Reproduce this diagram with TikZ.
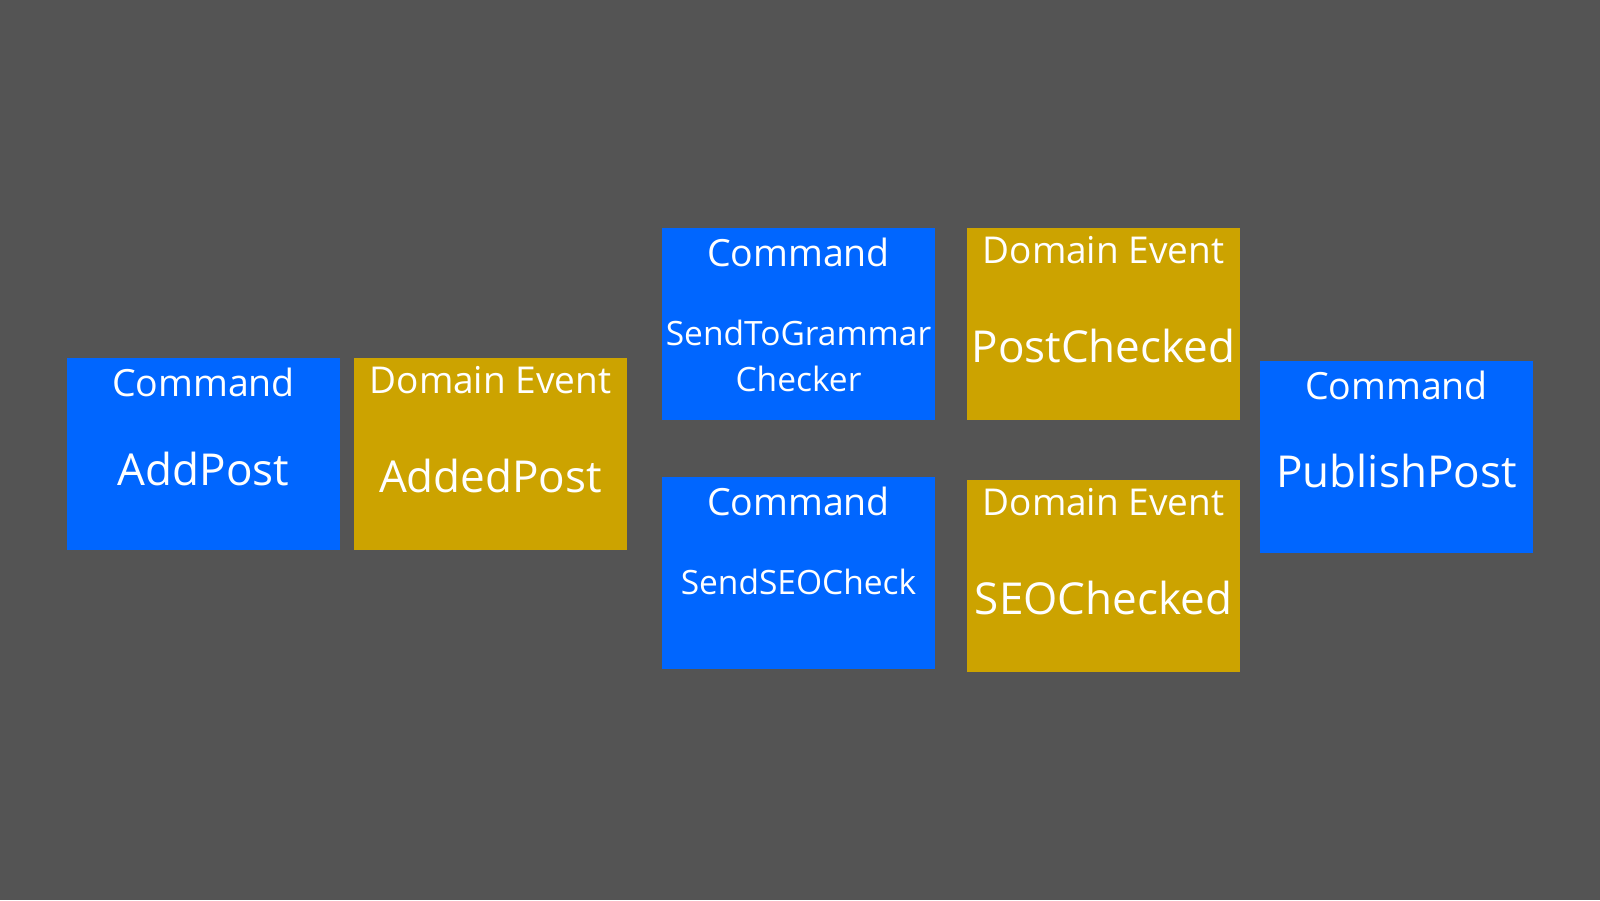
\documentclass[tikz,border=0pt]{standalone}
\usepackage{fontspec}
\setmainfont{Open Sans}
\usetikzlibrary{positioning}
\definecolor{bg}{HTML}{545454}
\definecolor{cmdblue}{HTML}{0066FF}
\definecolor{evgold}{HTML}{CCA300}
\tikzset{c/.style={fill=cmdblue,minimum width=273pt,minimum height=192pt,inner sep=0pt},
 e/.style={fill=evgold,minimum width=273pt,minimum height=192pt,inner sep=0pt},
 hc/.style={text=white,anchor=base,inner sep=0pt,font=\fontsize{37.5}{42}\selectfont},
 he/.style={text=white,anchor=base,inner sep=0pt,font=\fontsize{37}{41}\selectfont},
 big/.style={text=white,anchor=base,inner sep=0pt,font=\fontsize{44}{48}\selectfont},
 sm/.style={text=white,anchor=base,inner sep=0pt,font=\fontsize{33.5}{37}\selectfont}}

\begin{document}
\begin{tikzpicture}[x=1pt,y=-1pt]
\fill[bg](0,0)rectangle(1600,900);
\useasboundingbox(0,0)rectangle(1600,900);
% first column pair
\node[c](add) at (203.5,454){};
\node[hc](addH) at ([yshift=-39pt]add.north){Command};
\node[big](addN) at ([yshift=-128pt]add.north){AddPost};
\node[e](added) at (490.5,454){};
\node[he](addedH) at ([yshift=-36pt]added.north){Domain Event};
\node[big](addedN) at ([yshift=-135pt]added.north){AddedPost};
% checks
\node[c](gram) at (798.5,324){};
\node[hc](gramH) at ([yshift=-39pt]gram.north){Command};
\node[sm](gramN) at ([yshift=-118pt]gram.north){SendToGrammar};
\node[sm](gramN2) at ([yshift=-164pt]gram.north){Checker};
\node[e](pchk) at (1103.5,324){};
\node[he](pchkH) at ([yshift=-36pt]pchk.north){Domain Event};
\node[big](pchkN) at ([yshift=-135pt]pchk.north){PostChecked};
\node[c](seo) at (798.5,573){};
\node[hc](seoH) at ([yshift=-39pt]seo.north){Command};
\node[sm](seoN) at ([yshift=-118pt]seo.north){SendSEOCheck};
\node[e](schk) at (1103.5,576){};
\node[he](schkH) at ([yshift=-36pt]schk.north){Domain Event};
\node[big](schkN) at ([yshift=-135pt]schk.north){SEOChecked};
% publish
\node[c](pub) at (1396.5,457){};
\node[hc](pubH) at ([yshift=-39pt]pub.north){Command};
\node[big](pubN) at ([yshift=-127pt]pub.north){PublishPost};
\end{tikzpicture}
\end{document}
